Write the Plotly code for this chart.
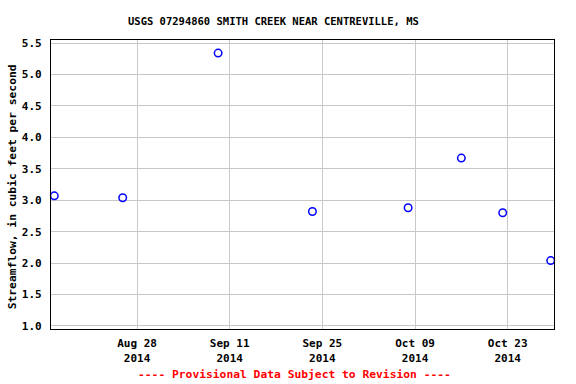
import plotly.graph_objects as go

dates = ["2014-08-15 12:00", "2014-08-25 20:00", "2014-09-09 06:00", "2014-09-23 12:00",
         "2014-10-07 23:00", "2014-10-16 00:00", "2014-10-22 06:00", "2014-10-29 12:00"]
flow = [3.07, 3.04, 5.34, 2.82, 2.88, 3.67, 2.80, 2.04]

tick_dates = ["2014-08-28", "2014-09-11", "2014-09-25", "2014-10-09", "2014-10-23"]
tick_text = ["Aug 28<br>2014", "Sep 11<br>2014", "Sep 25<br>2014", "Oct 09<br>2014", "Oct 23<br>2014"]
y_ticks = [1.0, 1.5, 2.0, 2.5, 3.0, 3.5, 4.0, 4.5, 5.0, 5.5]
y_text = ["1.0", "1.5", "2.0", "2.5", "3.0", "3.5", "4.0", "4.5", "5.0", "5.5"]

FONT = "DejaVu Sans Mono"

fig = go.Figure()
fig.add_trace(go.Scatter(
    x=dates, y=flow, mode="markers",
    marker=dict(symbol="circle-open", size=7.5, color="#0000ff", line=dict(width=1.5, color="#0000ff")),
    showlegend=False, cliponaxis=False,
))

L, R, T, B = 51, 21.5, 39.5, 55
PW, PH = 576 - L - R, 384 - T - B
fig.update_layout(
    width=576, height=384,
    margin=dict(l=L, r=R, t=T, b=B, autoexpand=False),
    paper_bgcolor="white", plot_bgcolor="white",
    font=dict(family=FONT, size=11, color="black", weight="bold"),
    xaxis=dict(
        type="date", range=["2014-08-15 00:00", "2014-10-30 00:00"],
        tickvals=tick_dates, ticktext=tick_text, ticks="",
        showgrid=True, gridcolor="#c8c8c8", gridwidth=1,
        showline=True, linecolor="black", linewidth=1.2, mirror=True,
        zeroline=False, ticklabelstandoff=4,
        tickfont=dict(family=FONT, size=11, color="black", weight="bold"),
    ),
    yaxis=dict(
        range=[0.952, 5.548], tickvals=y_ticks, ticktext=y_text, ticks="",
        showgrid=True, gridcolor="#c8c8c8", gridwidth=1,
        showline=True, linecolor="black", linewidth=1.2, mirror=True,
        zeroline=False, ticklabelstandoff=6,
        tickfont=dict(family=FONT, size=11, color="black", weight="bold"),
    ),
    annotations=[
        dict(text="USGS 07294860 SMITH CREEK NEAR CENTREVILLE, MS",
             xref="paper", yref="paper", x=(273.5 - L) / PW, y=1 + (T - 20) / PH,
             xanchor="center", yanchor="middle", showarrow=False,
             font=dict(family=FONT, size=10.5, color="black", weight="bold")),
        dict(text="Streamflow, in cubic feet per second", textangle=-90,
             xref="paper", yref="paper", x=(12 - L) / PW, y=(384 - B - 187) / PH,
             xanchor="center", yanchor="middle", showarrow=False,
             font=dict(family=FONT, size=11.3, color="black", weight="bold")),
        dict(text="---- Provisional Data Subject to Revision ----",
             xref="paper", yref="paper", x=(295 - L) / PW, y=-(375 - (384 - B)) / PH,
             xanchor="center", yanchor="middle", showarrow=False,
             font=dict(family=FONT, size=11.3, color="#ff0000", weight="bold")),
    ],
)

fig.write_html("out.html", config={"displayModeBar": False},
               post_script="document.body.style.margin='0';document.body.style.overflow='hidden';")
